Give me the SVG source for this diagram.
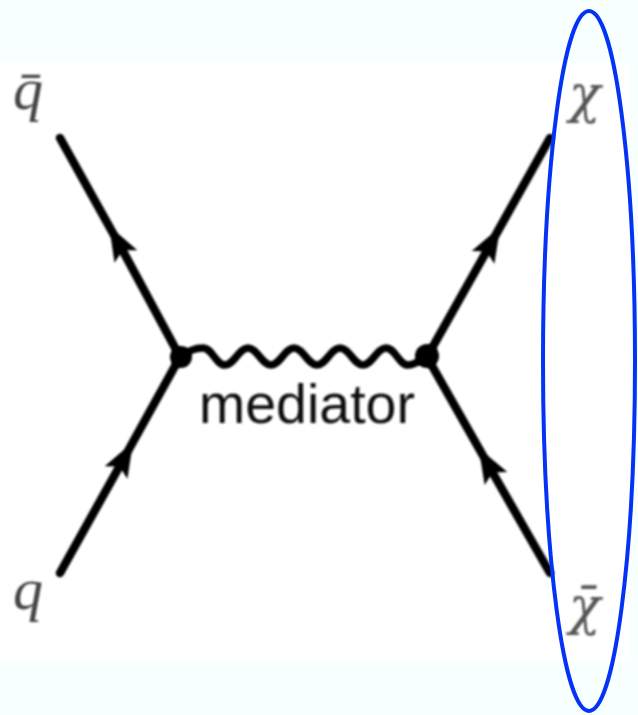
<svg xmlns="http://www.w3.org/2000/svg" width="638" height="715" viewBox="0 0 638 715">
<style>
.edge{fill:none;stroke:#000;stroke-width:8.5;stroke-linecap:round}
.wave{fill:none;stroke:#000;stroke-width:7.5}
.lab{font-family:"Liberation Serif","DejaVu Serif",serif;font-style:italic;font-size:60px;fill:#444}
.chi{font-family:"DejaVu Serif","Liberation Serif",serif;font-style:italic;font-size:52px;fill:#555}
.med{font-family:"Liberation Sans",Arial,sans-serif;font-size:55.5px;fill:#111}
.v{fill:#000}
</style>
<defs>
<filter id="soft" x="-20%" y="-20%" width="140%" height="140%"><feGaussianBlur stdDeviation="0.9"/></filter>
<marker id="arrow" markerUnits="userSpaceOnUse" markerWidth="40" markerHeight="32" refX="4" refY="16" orient="auto">
<path d="M35,16 L0,3 L7,16 L0,29 Z" fill="#000"/>
</marker>
</defs>
<rect width="638" height="715" fill="#f8ffff"/>
<rect x="0" y="62" width="630" height="599" fill="#fff"/>
<g id="connectors" filter="url(#soft)">
<polyline class="edge" points="180,357 124,253 60,138" marker-mid="url(#arrow)"/>
<polyline class="edge" points="60,573 118,469 180,357" marker-mid="url(#arrow)"/>
<polyline class="edge" points="427,357 485,254 550,138" marker-mid="url(#arrow)"/>
<polyline class="edge" points="550,573 494,475 427,357" marker-mid="url(#arrow)"/>
<path class="wave" d="M182,357 C190,350 195,348 203,348 C212,348 216,365 225,365 C234,365 239,348 248,348 C257,348 262,365 271,365 C280,365 285,348 294,348 C303,348 308,365 317,365 C326,365 331,348 340,348 C349,348 354,365 363,365 C372,365 377,348 386,348 C395,348 399,365 408,365 C415,365 420,360 427,357"/>
</g>
<g id="vertex-left"><circle class="v" cx="181" cy="357" r="11" filter="url(#soft)"/></g>
<g id="vertex-right"><circle class="v" cx="427" cy="356" r="12" filter="url(#soft)"/></g>
<g id="label-qbar"><text class="lab" x="13" y="109" filter="url(#soft)">q̄</text></g>
<g id="label-q"><text class="lab" x="13" y="609" filter="url(#soft)">q</text></g>
<g id="label-chi"><text class="chi" x="569" y="112" filter="url(#soft)">χ</text></g>
<g id="label-chibar"><text class="chi" x="569" y="624" filter="url(#soft)">χ̄</text></g>
<g id="label-mediator"><text class="med" x="199" y="423" filter="url(#soft)">mediator</text></g>
<g id="ellipse"><ellipse cx="589" cy="361" rx="46" ry="350" fill="none" stroke="#0533f5" stroke-width="4"/></g>
</svg>
